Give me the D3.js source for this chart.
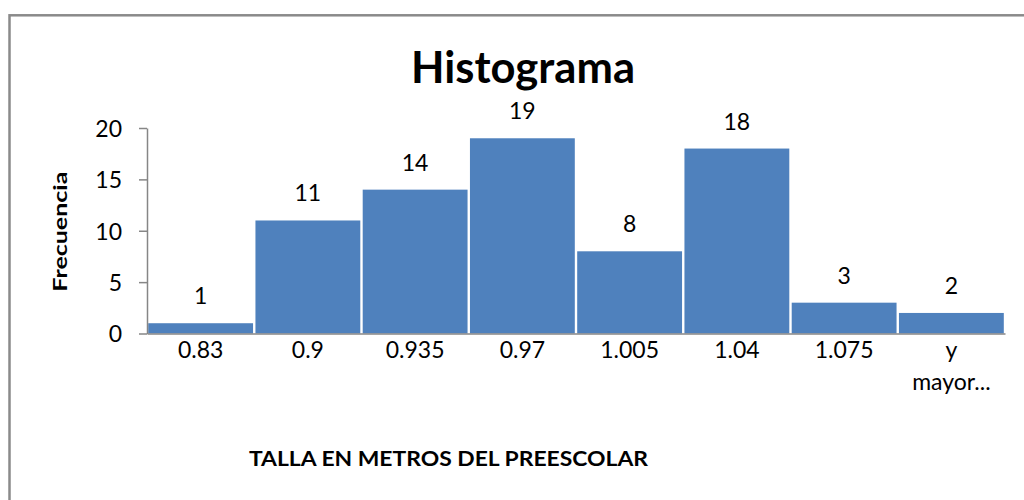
<!DOCTYPE html>
<html><head><meta charset="utf-8">
<script src="https://cdn.jsdelivr.net/npm/d3@7"></script>
<style>body{margin:0;background:#fff}svg{display:block}text{font-family:Lato,"Open Sans",sans-serif}</style>
</head><body><svg id="c" width="1024" height="500"></svg>
<script>
const categories = ["0.83","0.9","0.935","0.97","1.005","1.04","1.075","y mayor..."];
const frequencies = [1,11,14,19,8,18,3,2];
const yTicks = [0,5,10,15,20];
const titleText = "Histograma";
const yTitle = "Frecuencia";
const xTitle = "TALLA EN METROS DEL PREESCOLAR";

const svg = d3.select("#c");
svg.append("rect").attr("x",9.5).attr("y",15.3).attr("width",1030).attr("height",520)
  .attr("fill","none").attr("stroke","#8a8a8a").attr("stroke-width",2.5);

const x = d3.scaleBand().domain(categories).range([147,1005]).padding(0);
const y = d3.scaleLinear().domain([0,20]).range([333.5,128]);

// bars
svg.append("g").selectAll("rect").data(frequencies).join("rect")
  .attr("x",(d,i)=>x(categories[i])+1.2)
  .attr("width",x.bandwidth()-2.4)
  .attr("y",d=>y(d))
  .attr("height",d=>y(0)-y(d))
  .attr("fill","#4f81bd");

// value labels
svg.append("g").selectAll("text").data(frequencies).join("text")
  .attr("x",(d,i)=>x(categories[i])+x.bandwidth()/2)
  .attr("y",d=>y(d)-19)
  .attr("text-anchor","middle").attr("font-size",23).attr("fill","#000")
  .text(d=>d);

// y axis
const ya = svg.append("g").attr("transform","translate(147,0)")
  .call(d3.axisLeft(y).tickValues(yTicks).tickSize(8).tickSizeOuter(0).tickFormat(d3.format("d")));
ya.select(".domain").attr("stroke","#868686").attr("stroke-width",1.5);
ya.selectAll(".tick line").attr("stroke","#868686").attr("stroke-width",1.5);
ya.selectAll(".tick text").attr("x",-25).attr("dy","0.36em").attr("font-size",23).attr("fill","#000")
  .style("font-family","Lato,sans-serif");

// x axis
const xa = svg.append("g").attr("transform","translate(0,333.5)")
  .call(d3.axisBottom(x).tickSize(0).tickSizeOuter(0));
xa.select(".domain").attr("stroke","#868686").attr("stroke-width",1.5);
xa.selectAll(".tick text").attr("font-size",23).attr("fill","#000").style("font-family","Lato,sans-serif")
  .each(function(d){
    const t = d3.select(this); const words = d.split(" ");
    t.text(null).attr("y",0).attr("dy",null);
    words.forEach((w,i)=>{
      t.append("tspan").attr("x",0).attr("y",24.5+i*32).text(w);
    });
  });

// titles
svg.append("text").attr("x",523).attr("y",82.7).attr("text-anchor","middle")
  .attr("font-size",43).attr("font-weight","bold").attr("textLength",224).attr("lengthAdjust","spacingAndGlyphs").text(titleText);
svg.append("text").attr("transform","translate(67,231.7) rotate(-90)").attr("text-anchor","middle")
  .attr("font-size",19).attr("font-weight","bold").attr("textLength",120).attr("lengthAdjust","spacingAndGlyphs").text(yTitle);
svg.append("text").attr("x",448.5).attr("y",466).attr("text-anchor","middle")
  .attr("font-size",20).attr("font-weight","bold").attr("textLength",399).attr("lengthAdjust","spacingAndGlyphs").text(xTitle);
</script></body></html>
